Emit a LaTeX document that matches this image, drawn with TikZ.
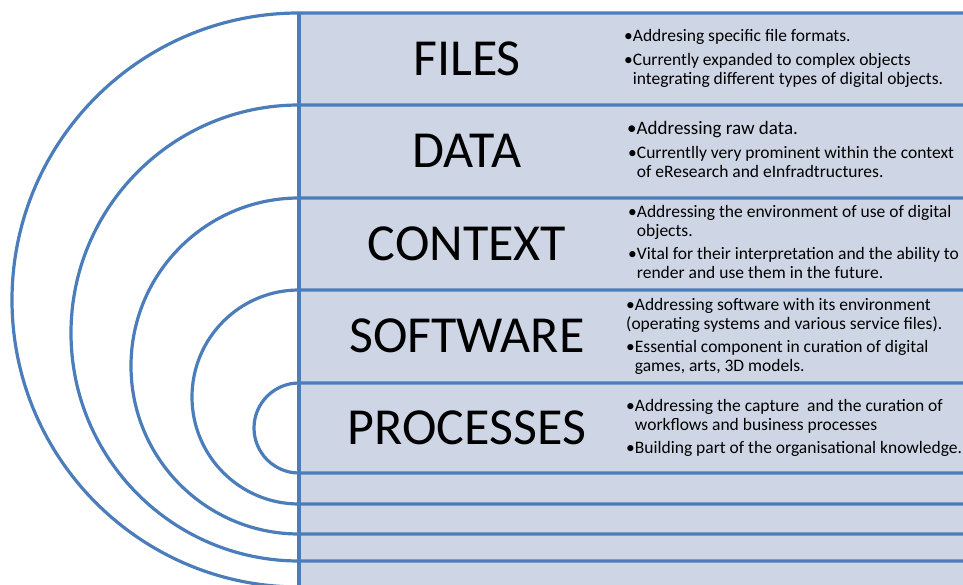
\documentclass[tikz,border=0pt]{standalone}
\usepackage{fontspec}
\setmainfont{Carlito}
\definecolor{ringblue}{RGB}{74,125,186}
\definecolor{bandfill}{RGB}{206,214,229}
\begin{document}
\begin{tikzpicture}[x=1pt,y=-1pt,
    ring/.style={ringblue,line width=3.2pt},
    layer/.style={font=\fontsize{52}{52}\selectfont,inner sep=0pt},
    note/.style={font=\fontsize{17.5}{19}\selectfont,align=left,anchor=base west,inner sep=0pt}]
\useasboundingbox (0,0) rectangle (963,585);

% bands on the right
\fill[bandfill] (299,13) rectangle (990,600);

% half rings, each one closing on a band edge
\foreach \top/\r in {13/287,105/228,198/168,290/107,383/45}
  \draw[ring] (990,\top) -- (299,\top)
    arc[start angle=-90,end angle=-270,radius=\r] -- (990,\top+2*\r);
\draw[ring,line width=3.6pt] (299,13) -- (299,600);

% layer names
\node[layer] (files) at (467,59) {FILES};
\node[layer] (data) at (467,151) {DATA};
\node[layer] (context) at (467,244) {CONTEXT};
\node[layer] (software) at (467,336) {SOFTWARE};
\node[layer] (processes) at (467,428) {PROCESSES};

% notes (base = baseline of the last line)
\node[note] (files1) at (624,42) {•Addresing specific file formats.};
\node[note] (files2) at (624,85) {•Currently expanded to complex objects\\\phantom{•}integrating different types of digital objects.};

\node[note,font=\fontsize{19}{19}\selectfont] (data1) at (627,135) {•Addressing raw data.};
\node[note] (data2) at (628,178) {•Currentlly very prominent within the context\\\phantom{•}of eResearch and eInfradtructures.};

\node[note] (context1) at (628,237) {•Addressing the environment of use of digital\\\phantom{•}objects.};
\node[note] (context2) at (628,278) {•Vital for their interpretation and the ability to\\\phantom{•}render and use them in the future.};

\node[note] (software1) at (626,329) {•Addressing software with its environment\\(operating systems and various service files).};
\node[note] (software2) at (626,371) {•Essential component in curation of digital\\\phantom{•}games, arts, 3D models.};

\node[note] (processes1) at (626,430) {•Addressing the capture~ and the curation of\\\phantom{•}workflows and business processes};
\node[note] (processes2) at (626,453) {•Building part of the organisational knowledge.};
\end{tikzpicture}
\end{document}
